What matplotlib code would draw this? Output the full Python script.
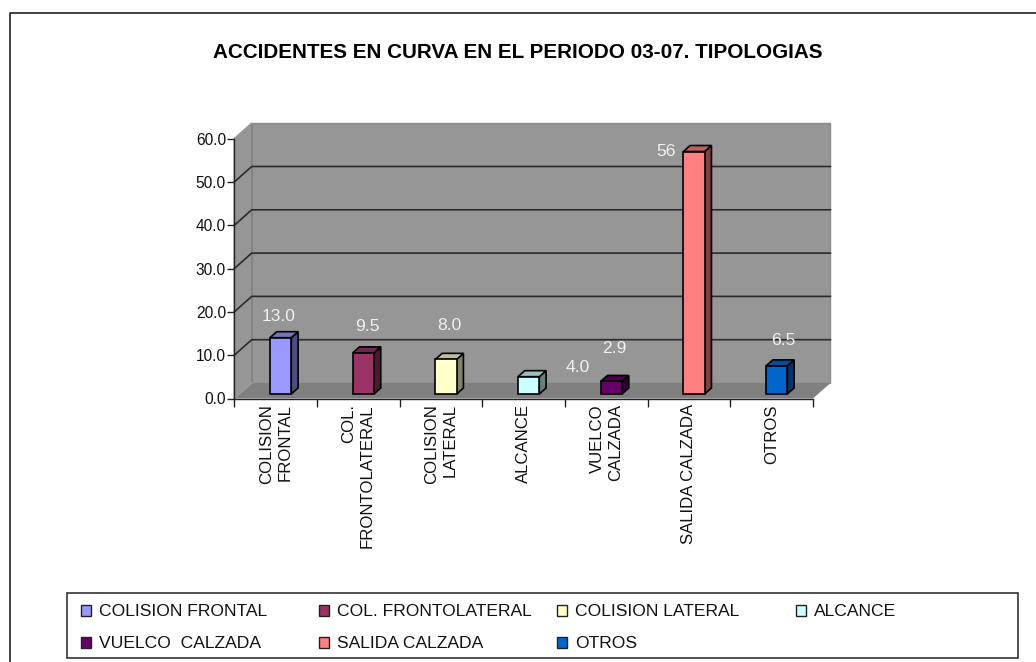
import matplotlib
matplotlib.use('Agg')
import matplotlib.pyplot as plt
from matplotlib.patches import Polygon, Rectangle

plt.rcParams['font.family'] = ['Liberation Sans', 'DejaVu Sans']

title = 'ACCIDENTES EN CURVA EN EL PERIODO 03-07. TIPOLOGIAS'
categories = ['COLISION\nFRONTAL', 'COL.\nFRONTOLATERAL', 'COLISION\nLATERAL', 'ALCANCE',
              'VUELCO\nCALZADA', 'SALIDA CALZADA', 'OTROS']
legend_names = ['COLISION FRONTAL', 'COL. FRONTOLATERAL', 'COLISION LATERAL', 'ALCANCE',
                'VUELCO  CALZADA', 'SALIDA CALZADA', 'OTROS']
values = [13.0, 9.5, 8.0, 4.0, 2.9, 56, 6.5]
value_labels = ['13.0', '9.5', '8.0', '4.0', '2.9', '56', '6.5']
colors = ['#9999FF', '#993366', '#FFFFCC', '#CCFFFF', '#660066', '#FF8080', '#0066CC']
side_colors = ['#4D4D80', '#4D1A33', '#808066', '#668080', '#330033', '#804040', '#003366']
top_colors = ['#7373BF', '#73264D', '#BFBF99', '#99BFBF', '#4D004D', '#BF6060', '#004D99']
yticks = [0, 10, 20, 30, 40, 50, 60]

# hand placed labels in the original, offset in pixels from the bar position
label_dx = [3, 9, 8, 54, 8, -23, 12]
label_dy = [26, 31, 38, 14, 37, 5, 30]

W, H = 1036, 662
fig = plt.figure(figsize=(W / 100, H / 100), dpi=100)
fig.patch.set_facecolor('white')

# front plane of the 3d box
x0, x1, y0, y1 = 234.3, 813.0, 398.5, 138.7
ax = fig.add_axes([x0 / W, 1 - y0 / H, (x1 - x0) / W, (y0 - y1) / H])
ax.set_xlim(0, 7)
ax.set_ylim(0, 60)
ax.patch.set_visible(False)

ux = 7 / (x1 - x0)
uy = 60 / (y0 - y1)
depth_x, depth_y = 17.4 * ux, 15.5 * uy


def poly(pts, fc, ec='none', lw=0.0, z=1):
    ax.add_patch(Polygon(pts, closed=True, facecolor=fc, edgecolor=ec, linewidth=lw,
                         zorder=z, clip_on=False))


# walls and floor
wall = '#969696'
poly([(depth_x, depth_y), (7 + depth_x, depth_y), (7 + depth_x, 60 + depth_y), (depth_x, 60 + depth_y)], wall, '#8a8a8a', 1.0)
poly([(0, 0), (depth_x, depth_y), (depth_x, 60 + depth_y), (0, 60)], wall, '#808080', 1.0)
poly([(0, 0), (7, 0), (7 + depth_x, depth_y), (depth_x, depth_y)], '#808080', z=1.2)

# grid lines on the walls
for t in yticks[1:-1]:
    ax.plot([0, depth_x, 7 + depth_x], [t, t + depth_y, t + depth_y], color='#2b2b2b', lw=1.2,
            zorder=1.5, clip_on=False)
ax.plot([0, depth_x], [0, depth_y], color='#a0a0a0', lw=1.0, zorder=1.5, clip_on=False)
ax.plot([0, depth_x], [60, 60 + depth_y], color='#a0a0a0', lw=1.0, zorder=1.5, clip_on=False)

# bars
bar_w = 21.3 * ux
off_x, off_y = 5.0 * ux, 4.5 * uy
bd_x, bd_y = 6.8 * ux, 6.0 * uy
for i, v in enumerate(values):
    left = i + 0.5 - bar_w / 2 + off_x
    right = left + bar_w
    base = off_y
    top = base + v
    poly([(right, base), (right + bd_x, base + bd_y), (right + bd_x, top + bd_y), (right, top)],
         side_colors[i], 'black', 1.2, 3)
    poly([(left, top), (right, top), (right + bd_x, top + bd_y), (left + bd_x, top + bd_y)],
         top_colors[i], 'black', 1.2, 3)
    ax.add_patch(Rectangle((left, base), bar_w, v, facecolor=colors[i], edgecolor='black',
                           linewidth=1.2, zorder=4, clip_on=False))
    ax.annotate(value_labels[i], (i + 0.5, v), xytext=(label_dx[i], label_dy[i]),
                textcoords='offset pixels', ha='center', va='center', color='#F0F0F0',
                fontsize=12.6, zorder=6, annotation_clip=False)

# axes
for s in ['top', 'right']:
    ax.spines[s].set_visible(False)
for s in ['left', 'bottom']:
    ax.spines[s].set_color('#222222')
    ax.spines[s].set_linewidth(1.0)
    ax.spines[s].set_zorder(5)
ax.set_yticks(yticks)
ax.set_yticklabels(['%.1f' % t for t in yticks], fontsize=11.2, color='#111111')
ax.tick_params(axis='y', length=5, width=1.0, color='#222222', pad=1)
ax.set_xticks(range(8))
ax.set_xticklabels([])
ax.tick_params(axis='x', which='major', length=6, width=1.0, color='#222222')
ax.set_xticks([i + 0.5 for i in range(7)], minor=True)
ax.set_xticklabels(categories, minor=True, rotation=90, fontsize=12.1, va='top', ha='center',
                   multialignment='right', linespacing=1.3, color='#111111')
ax.tick_params(axis='x', which='minor', length=0, pad=4)

# chart frame, cut by the right and bottom of the picture
fig.add_artist(plt.Line2D([9.5 / W, 9.5 / W, 1], [0, 1 - 13 / H, 1 - 13 / H], color='#222222', lw=1.2))

fig.text(518 / W, 1 - 52 / H, title, fontsize=14.9, fontweight='bold', ha='center', va='center', color='black')

# legend box
fig.add_artist(Rectangle((67 / W, 1 - 658 / H), 951 / W, 65 / H, transform=fig.transFigure,
                         facecolor='white', edgecolor='#333333', lw=1.2))
col_x = [81, 319, 557, 796]
row_y = [611, 643]
for i, name in enumerate(legend_names):
    c, r = i % 4, i // 4
    fig.add_artist(Rectangle((col_x[c] / W, 1 - (row_y[r] + 5) / H), 10 / W, 11 / H, transform=fig.transFigure,
                             facecolor=colors[i], edgecolor='#222222', lw=1.0))
    fig.text((col_x[c] + 18) / W, 1 - row_y[r] / H, name, fontsize=12.6, ha='left', va='center', color='#111111')

fig.savefig('out.png', dpi=100)
